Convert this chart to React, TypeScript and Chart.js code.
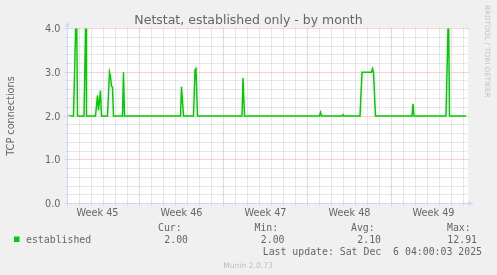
import { useEffect, useRef } from 'react';
import { Chart, registerables } from 'chart.js';

Chart.register(...registerables);

// ---- data (x = hours since the left edge of the graph, y = TCP connections) ----
const hoursSinceStart = [
  0, 12, 18, 20, 33, 37, 38, 56, 60, 62, 66, 68, 80, 84, 86, 88, 90, 92,
  110, 112, 114, 226, 228, 232, 252, 255, 257, 260, 349, 351, 354,
  504, 506, 508, 549, 551, 553, 585, 589, 608, 610, 612, 616,
  689, 691, 693, 757, 762, 764, 797,
];
const establishedConnections = [
  2, 2, 4.8, 2, 2, 4.6, 2, 2, 2.47, 2.13, 2.58, 2, 2, 3.0, 2.9, 2.68, 2.66, 2,
  2, 3.0, 2, 2, 2.67, 2, 2, 3.05, 3.08, 2, 2, 2.87, 2,
  2, 2.08, 2, 2, 2.03, 2, 2, 3.0, 3.0, 3.08, 3.0, 2,
  2, 2.28, 2, 2, 4.5, 2, 2,
];

const weekLabels = ['Week 45', 'Week 46', 'Week 47', 'Week 48', 'Week 49'];
const weekLabelHours = [60, 228, 396, 564, 732];
const weekStartHours = [144, 312, 480, 648];
const dayStepHours = 24;
const yMajorTicks = [0, 1, 2, 3, 4];
const yTickLabels = ['0.0', '1.0', '2.0', '3.0', '4.0'];
const yMinorStep = 0.2;

const titleText = 'Netstat, established only - by month';
const yAxisTitle = 'TCP connections';
const seriesName = 'established';
const legendHeaders = ['Cur:', 'Min:', 'Avg:', 'Max:'];
const legendValues = ['2.00', '2.00', '2.10', '12.91'];
const lastUpdateText = 'Last update: Sat Dec  6 04:00:03 2025';
const watermarkText = 'Munin 2.0.73';
const sideText = 'RRDTOOL / TOBI OETIKER';

const FONT_COLOR = '#666666';
const AXIS_COLOR = '#CFD6F8';
const LINE_COLOR = '#00CC00';
const MINOR_GRID = 'rgba(140,140,140,0.4)';
const MAJOR_GRID = 'rgba(220,50,50,0.42)';

const snap = (p: number) => Math.round(p - 0.5) + 0.5;

const muninPlugin = {
  id: 'muninDecor',
  beforeDraw(chart: any) {
    const { ctx, chartArea: a, width, height } = chart;
    ctx.save();
    ctx.fillStyle = '#F0F0F0';
    ctx.fillRect(0, 0, width, height);
    ctx.fillStyle = '#FFFFFF';
    ctx.fillRect(a.left - 0.5, a.top - 0.5, a.right - a.left + 1, a.bottom - a.top + 1);
    ctx.restore();
  },
  beforeDatasetsDraw(chart: any) {
    const { ctx, chartArea: a } = chart;
    const xs = chart.scales.x;
    const ys = chart.scales.y;
    ctx.save();
    ctx.lineWidth = 1;
    ctx.setLineDash([1, 1]);
    ctx.strokeStyle = MINOR_GRID;
    for (let h = dayStepHours; h < xs.max; h += dayStepHours) {
      if (weekStartHours.includes(h)) continue;
      const px = snap(xs.getPixelForValue(h));
      ctx.beginPath();
      ctx.moveTo(px, a.top);
      ctx.lineTo(px, a.bottom);
      ctx.stroke();
    }
    for (let i = 1; i * yMinorStep < ys.max; i++) {
      const v = i * yMinorStep;
      if (Math.abs(v - Math.round(v)) < 1e-6) continue;
      const py = snap(ys.getPixelForValue(v));
      ctx.beginPath();
      ctx.moveTo(a.left, py);
      ctx.lineTo(a.right, py);
      ctx.stroke();
    }
    ctx.strokeStyle = MAJOR_GRID;
    weekStartHours.forEach((h) => {
      const px = snap(xs.getPixelForValue(h));
      ctx.beginPath();
      ctx.moveTo(px, a.top);
      ctx.lineTo(px, a.bottom);
      ctx.stroke();
    });
    yMajorTicks.forEach((v) => {
      if (v === 0) return;
      const py = snap(ys.getPixelForValue(v));
      ctx.beginPath();
      ctx.moveTo(a.left, py);
      ctx.lineTo(a.right + 1, py);
      ctx.stroke();
    });
    ctx.restore();
  },
  afterDatasetsDraw(chart: any) {
    const { ctx, chartArea: a } = chart;
    const xs = chart.scales.x;
    const ys = chart.scales.y;
    ctx.save();
    ctx.setLineDash([]);
    ctx.lineWidth = 1;
    ctx.strokeStyle = AXIS_COLOR;
    ctx.fillStyle = AXIS_COLOR;
    const bottom = snap(ys.getPixelForValue(0));
    const left = snap(xs.getPixelForValue(0));
    ctx.beginPath();
    ctx.moveTo(a.left - 3, bottom);
    ctx.lineTo(a.right + 2, bottom);
    ctx.moveTo(left, a.bottom + 3);
    ctx.lineTo(left, a.top - 2);
    ctx.stroke();
    for (let h = dayStepHours; h < xs.max; h += dayStepHours) {
      const px = snap(xs.getPixelForValue(h));
      const len = weekStartHours.includes(h) ? 3 : 2;
      ctx.beginPath();
      ctx.moveTo(px, bottom - len);
      ctx.lineTo(px, bottom + len);
      ctx.stroke();
    }
    for (let i = 1; i * yMinorStep <= ys.max + 1e-6; i++) {
      const v = i * yMinorStep;
      const major = Math.abs(v - Math.round(v)) < 1e-6;
      const py = snap(ys.getPixelForValue(v));
      const len = major ? 3 : 2;
      ctx.beginPath();
      ctx.moveTo(left - len, py);
      ctx.lineTo(left + len, py);
      ctx.stroke();
    }
    ctx.beginPath();
    ctx.moveTo(a.right + 1, bottom - 2.5);
    ctx.lineTo(a.right + 1, bottom + 2.5);
    ctx.lineTo(a.right + 6, bottom);
    ctx.closePath();
    ctx.fill();
    ctx.beginPath();
    ctx.moveTo(left - 2.5, a.top - 2);
    ctx.lineTo(left + 2.5, a.top - 2);
    ctx.lineTo(left, a.top - 7);
    ctx.closePath();
    ctx.fill();
    ctx.restore();
  },
  afterDraw(chart: any) {
    const { ctx, chartArea: a } = chart;
    const xs = chart.scales.x;
    const ys = chart.scales.y;
    ctx.save();
    ctx.fillStyle = FONT_COLOR;
    ctx.textBaseline = 'alphabetic';

    ctx.font = '12.5px "DejaVu Sans"';
    ctx.textAlign = 'center';
    ctx.fillText(titleText, 248.5, 24);

    ctx.font = '9.7px "DejaVu Sans"';
    ctx.textAlign = 'right';
    yMajorTicks.forEach((v, i) => {
      const py = ys.getPixelForValue(v);
      ctx.fillText(yTickLabels[i], a.left - 7, py + 3.5);
    });

    ctx.textAlign = 'center';
    weekLabels.forEach((lbl, i) => {
      ctx.fillText(lbl, xs.getPixelForValue(weekLabelHours[i]), 215.5);
    });

    ctx.save();
    ctx.translate(14, (a.top + a.bottom) / 2);
    ctx.rotate(-Math.PI / 2);
    ctx.textAlign = 'center';
    ctx.fillText(yAxisTitle, 0, 0);
    ctx.restore();

    ctx.save();
    ctx.fillStyle = '#c4c4c4';
    ctx.font = '7.2px "DejaVu Sans"';
    ctx.translate(485, 5);
    ctx.rotate(Math.PI / 2);
    ctx.textAlign = 'left';
    ctx.fillText(sideText, 0, 0);
    ctx.restore();

    ctx.fillStyle = LINE_COLOR;
    ctx.fillRect(14, 236.5, 5.5, 5.5);
    ctx.fillStyle = FONT_COLOR;
    ctx.font = '9.85px "DejaVu Sans Mono"';
    ctx.textAlign = 'left';
    ctx.fillText(seriesName, 26, 242.5);
    const headerX = [158, 254.5, 351, 447];
    const valueRight = [188, 284.5, 381, 477];
    legendHeaders.forEach((h, i) => ctx.fillText(h, headerX[i], 231));
    ctx.textAlign = 'right';
    legendValues.forEach((v, i) => ctx.fillText(v, valueRight[i], 242.5));
    ctx.fillText(lastUpdateText, 482, 254.5);

    ctx.fillStyle = '#bdbdbd';
    ctx.font = '7.6px "DejaVu Sans"';
    ctx.textAlign = 'center';
    ctx.fillText(watermarkText, 248, 267.5);
    ctx.restore();
  },
};

export default function App() {
  const canvasRef = useRef<HTMLCanvasElement | null>(null);

  useEffect(() => {
    document.body.style.margin = '0';
    document.body.style.background = '#F0F0F0';
    const canvas = canvasRef.current;
    if (!canvas) return;
    const chart = new Chart(canvas, {
      type: 'line',
      data: {
        datasets: [
          {
            label: seriesName,
            data: hoursSinceStart.map((h, i) => ({ x: h, y: establishedConnections[i] })),
            borderColor: LINE_COLOR,
            borderWidth: 1.5,
            pointRadius: 0,
            tension: 0,
            fill: false,
          },
        ],
      },
      options: {
        animation: false,
        responsive: false,
        events: [],
        layout: { padding: { left: 67.5, top: 28.5, right: 29.5, bottom: 71.5 } },
        scales: {
          x: { type: 'linear', min: 0, max: 800, display: false },
          y: { type: 'linear', min: 0, max: 4, display: false },
        },
        plugins: {
          legend: { display: false },
          tooltip: { enabled: false },
          title: { display: false },
        },
      },
      plugins: [muninPlugin],
    });
    return () => chart.destroy();
  }, []);

  return (
    <div style={{ width: 497, height: 275, background: '#F0F0F0' }}>
      <canvas ref={canvasRef} width={497} height={275} style={{ display: 'block' }} />
    </div>
  );
}
